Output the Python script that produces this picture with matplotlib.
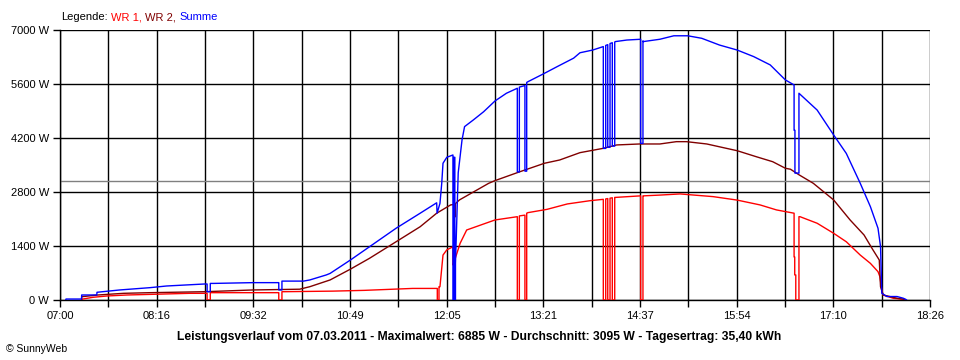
import numpy as np
import matplotlib
matplotlib.use("Agg")
import matplotlib.pyplot as plt

# day summary (SunnyWeb header values)
DAY = "07.03.2011"
MAX_W = 6885
AVG_W = 3095
YIELD_KWH = "35,40"

X_LABELS = ["07:00", "08:16", "09:32", "10:49", "12:05", "13:21", "14:37", "15:54", "17:10", "18:26"]
Y_TICKS = [0, 1400, 2800, 4200, 5600, 7000]

# WR 1 (red)
wr1_t = ["07:17:00", "07:17:06", "07:26", "07:37", "07:53", "08:16", "08:42", "08:54",
         "08:56", "08:56", "08:58:30", "08:58:30", "09:01", "09:52",
         "09:52:30", "09:52:30", "09:55", "09:55", "09:56", "10:35", "11:00", "11:38", "11:57:30",
         "11:57:30", "11:58:50", "11:58:50", "11:59:36", "12:02", "12:05", "12:09:50",
         "12:09:50", "12:10", "12:15:30", "12:20:40", "12:43", "13:00:36",
         "13:00:36", "13:02:12", "13:02:12", "13:06:36", "13:06:36", "13:08", "13:08",
         "13:09", "13:24", "13:40", "13:58", "14:08:24",
         "14:08:24", "14:10:18", "14:10:18", "14:11:54", "14:11:54", "14:13:42", "14:13:42",
         "14:15:30", "14:15:30", "14:17:24", "14:17:24",
         "14:18", "14:37:50", "14:37:50", "14:39:40", "14:39:40", "14:40", "14:53", "15:09",
         "15:20", "15:35", "15:54", "16:12", "16:25", "16:38:50",
         "16:38:50", "16:39:20", "16:39:20", "16:40:10", "16:40:10", "16:42:40", "16:42:40",
         "16:43:30", "16:57", "17:10", "17:20", "17:31", "17:39", "17:45", "17:46:30",
         "17:48", "17:49", "17:57", "18:05", "18:06"]
wr1_w = [0, 20, 70, 104, 130, 150, 173, 173,
         173, 0, 0, 190, 190, 190,
         190, 0, 0, 215, 215, 230, 250, 300, 300,
         0, 0, 345, 345, 1165, 1300, 1380,
         910, 910, 1470, 1815, 2075, 2160,
         0, 0, 2180, 2200, 0, 0, 2250,
         2265, 2350, 2490, 2575, 2610,
         0, 0, 2620, 2630, 0, 0, 2640,
         2650, 0, 0, 2660,
         2660, 2700, 0, 0, 2700, 2700, 2720, 2750,
         2720, 2680, 2590, 2465, 2335, 2250,
         1115, 1115, 650, 650, 0, 0, 2160,
         2160, 1990, 1730, 1510, 1165, 950, 735, 605,
         260, 130, 45, 20, 0]

# WR 2 (dark red)
wr2_t = ["07:17:00", "07:17:06", "07:30", "07:50", "08:11", "08:54", "09:32", "10:09", "10:17",
         "10:33", "10:49", "11:04", "11:25", "11:44", "11:57", "12:08", "12:11:20",
         "12:11:20", "12:11:50", "12:11:50", "12:15", "12:38", "12:43", "13:03", "13:22", "13:34",
         "13:50", "14:08", "14:19", "14:37", "14:53", "15:06", "15:14", "15:30", "15:43",
         "15:54", "16:09", "16:22", "16:32", "16:36", "16:43", "16:54", "17:10", "17:23",
         "17:34", "17:41", "17:46", "17:47", "17:49", "18:00", "18:05", "18:06"]
wr2_w = [0, 85, 130, 173, 190, 215, 260, 280, 345,
         520, 800, 1080, 1510, 1900, 2250, 2465, 2480,
         2160, 2160, 2500, 2595, 3025, 3095, 3330, 3545, 3630,
         3820, 3930, 4020, 4045, 4045, 4105, 4105, 4045, 3950,
         3870, 3715, 3585, 3415, 3390, 3240, 3025, 2595, 2075,
         1685, 1300, 1037, 345, 130, 45, 20, 0]

# Summe (blue)
sum_t = ["07:04:30", "07:04:45", "07:17:00", "07:17:06", "07:29", "07:29:10", "07:47", "08:11",
         "08:24", "08:54", "08:56", "08:56", "08:58:30", "08:58:30", "09:01", "09:32", "09:52",
         "09:52:30", "09:52:30", "09:55", "09:55", "10:12", "10:17", "10:30", "10:33", "10:49",
         "11:04", "11:25", "11:44", "11:57", "11:57:20", "11:59:36", "12:01", "12:02", "12:05",
         "12:09:50", "12:09:50", "12:10:30", "12:10:30", "12:11:20", "12:11:20", "12:11:50",
         "12:11:50", "12:14", "12:17", "12:19", "12:26", "12:34", "12:43", "12:52", "13:00:36",
         "13:00:36", "13:02:12", "13:02:12", "13:06:36", "13:06:36", "13:08", "13:08",
         "13:09", "13:21", "13:32", "13:45", "13:50", "14:00", "14:08:24",
         "14:08:24", "14:10:18", "14:10:18", "14:11:54", "14:11:54", "14:13:42", "14:13:42",
         "14:15:30", "14:15:30", "14:17:24", "14:17:24",
         "14:18", "14:27", "14:37:50", "14:37:50", "14:39:40", "14:39:40", "14:40", "14:53",
         "15:04", "15:15", "15:26", "15:40", "15:54", "16:07", "16:20", "16:32", "16:38:50",
         "16:38:50", "16:39:30", "16:39:30", "16:42:40", "16:42:40",
         "16:57", "17:10", "17:20", "17:31", "17:39", "17:45", "17:47", "17:48", "17:52",
         "18:00", "18:05", "18:07", "18:07:30"]
sum_w = [0, 25, 25, 130, 130, 200, 260, 320,
         363, 415, 415, 215, 215, 430, 430, 450, 450,
         450, 260, 260, 490, 490, 520, 650, 690, 1037,
         1380, 1860, 2250, 2520, 2250, 2505, 3025, 3545, 3700,
         3760, 0, 0, 3700, 3700, 0, 0,
         950, 3300, 4150, 4495, 4670, 4880, 5160, 5360, 5490,
         3320, 3320, 5520, 5560, 3340, 3340, 5640,
         5660, 5860, 6050, 6270, 6410, 6480, 6570,
         3930, 3930, 6600, 6620, 3960, 3960, 6650,
         6670, 3990, 3990, 6690,
         6700, 6740, 6760, 4060, 4060, 6720, 6700, 6760,
         6850, 6850, 6785, 6610, 6480, 6310, 6095, 5705, 5575,
         4400, 4400, 3290, 3290, 5360,
         4925, 4280, 3800, 3025, 2420, 1860, 1385, 175, 90,
         90, 45, 15, 0]


def to_hours(stamps):
    out = []
    for s in stamps:
        parts = [int(p) for p in s.split(":")]
        while len(parts) < 3:
            parts.append(0)
        out.append(parts[0] + parts[1] / 60 + parts[2] / 3600)
    return np.array(out)


plt.rcParams["font.family"] = ["Liberation Sans", "DejaVu Sans"]
plt.rcParams["font.size"] = 8

fig = plt.figure(figsize=(9.6, 3.6), dpi=100)
ax = fig.add_axes([60 / 960, 60 / 360, 870 / 960, 270 / 360])

x0, x1 = 7.0, 18 + 26 / 60
major = np.linspace(x0, x1, len(X_LABELS))
minor = (major[:-1] + major[1:]) / 2

ax.set_xlim(x0, x1)
ax.set_ylim(0, 7000)
ax.set_xticks(major)
ax.set_xticklabels(X_LABELS)
ax.set_xticks(minor, minor=True)
ax.set_yticks(Y_TICKS)
ax.set_yticklabels([f"{v} W" for v in Y_TICKS])
ax.tick_params(axis="both", which="both", direction="out", length=5, width=1,
               color="black", labelsize=8, pad=3)
ax.grid(True, which="both", axis="x", color="black", lw=1)
ax.grid(True, which="major", axis="y", color="black", lw=1)
ax.set_axisbelow(True)
for side in ["top", "right"]:
    ax.spines[side].set_visible(False)
for side in ["left", "bottom"]:
    ax.spines[side].set_linewidth(1)

ax.axhline(AVG_W, color="#808080", lw=1, zorder=1.5)

lw = 1.0
ax.plot(to_hours(wr1_t), wr1_w, color="#ff0000", lw=lw, zorder=3)
ax.plot(to_hours(wr2_t), wr2_w, color="#800000", lw=lw, zorder=3)
ax.plot(to_hours(sum_t), sum_w, color="#0000ff", lw=lw, zorder=3)

# legend in SunnyWeb style: coloured words after "Legende:"
legend_parts = [("Legende:", "black"), ("WR 1,", "#ff0000"), ("WR 2,", "#800000"), ("Summe", "#0000ff")]
prev = fig.text(61 / 960, 1 - 17 / 360, legend_parts[0][0], color=legend_parts[0][1],
                fontsize=8, va="center", ha="left")
for txt, col in legend_parts[1:]:
    prev = ax.annotate(txt, xy=(1, 0), xycoords=prev, xytext=(2.5, 0),
                       textcoords="offset points", color=col, fontsize=8,
                       va="bottom", ha="left", annotation_clip=False)

title = (f"Leistungsverlauf vom {DAY} - Maximalwert: {MAX_W} W - "
         f"Durchschnitt: {AVG_W} W - Tagesertrag: {YIELD_KWH} kWh")
fig.text(479.5 / 960, 1 - 337 / 360, title, ha="center", va="center",
         fontsize=8.7, fontweight="bold")
fig.text(6 / 960, 1 - 349 / 360, "\u00a9 SunnyWeb", ha="left", va="center", fontsize=7.5)

fig.savefig("out.png", dpi=100, facecolor="white")
